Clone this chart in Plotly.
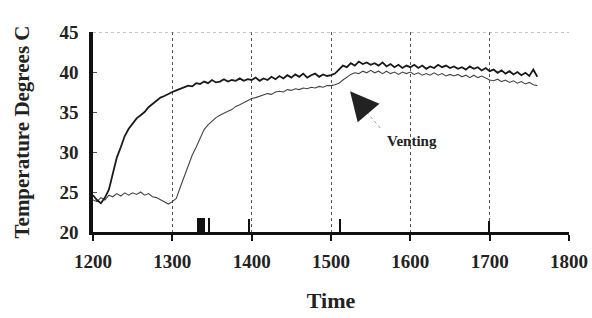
import plotly.graph_objects as go

time = list(range(1200, 1765, 5))

temp_upper = [24.6, 24.0, 23.6, 24.3, 25.3, 27.2, 29.3, 30.6, 32.0, 32.9,
              33.5, 34.2, 34.6, 35.0, 35.6, 36.0, 36.3, 36.8, 37.0, 37.3,
              37.5, 37.7, 37.9, 38.0, 38.3, 38.2, 38.6, 38.5, 38.8, 38.6,
              39.0, 38.7, 38.8, 39.1, 38.8, 39.0, 38.9, 39.2, 38.9, 39.1,
              39.0, 39.3, 38.9, 39.2, 39.0, 39.4, 39.1, 39.5, 39.2, 39.6,
              39.3, 39.7, 39.4, 39.8, 39.3, 39.6, 39.8, 39.4, 39.7, 39.5,
              39.6, 39.8, 40.3, 40.8, 40.6, 41.1, 40.8, 41.3, 41.0, 41.2,
              40.9, 41.1, 40.8, 41.2, 40.7, 41.0, 40.6, 40.9, 40.5, 40.8,
              40.6, 40.9, 40.5, 40.8, 40.4, 40.7, 40.5, 40.9, 40.6, 40.8,
              40.5, 40.7, 40.4, 40.6, 40.3, 40.7, 40.4, 40.6, 40.2, 40.5,
              40.1, 40.3, 39.9, 40.2, 39.8, 40.1, 39.7, 40.0, 39.6, 39.9,
              39.5, 40.3, 39.4]

temp_lower = [24.0, 23.8, 24.3, 24.0, 24.6, 24.4, 24.8, 24.5, 24.9, 24.6,
              24.9, 24.7, 25.0, 24.6, 24.8, 24.4, 24.3, 24.0, 23.8, 23.5,
              23.8, 24.2, 25.6, 27.0, 28.2, 29.6, 30.6, 31.8, 32.8, 33.4,
              33.9, 34.3, 34.6, 34.9, 35.1, 35.3, 35.7, 35.9, 36.2, 36.5,
              36.7, 36.8, 37.0, 37.1, 37.3, 37.2, 37.5, 37.6, 37.5, 37.8,
              37.7, 37.9, 37.8, 38.0, 37.9, 38.1, 38.0, 38.2, 38.1, 38.3,
              38.3, 38.4, 38.6, 39.0, 39.4, 39.7, 39.9, 39.8, 40.1, 39.9,
              40.2, 39.9, 40.1, 39.8, 40.1, 39.8, 40.0, 39.7, 40.0, 39.8,
              40.0, 39.7, 39.9, 39.6, 39.8, 39.6, 39.9, 39.6, 39.8, 39.5,
              39.7, 39.5, 39.7, 39.4, 39.6, 39.3, 39.6, 39.3, 39.5, 39.2,
              39.0, 38.9, 39.1, 38.8, 39.0, 38.7, 38.9, 38.6, 38.8, 38.5,
              38.7, 38.4, 38.3]

event_time = [1332, 1334, 1336, 1338, 1340, 1347, 1397, 1511, 1700]
event_level = [21.8, 21.8, 21.8, 21.8, 21.8, 21.7, 21.6, 21.6, 21.4]

x_ticks = [1200, 1300, 1400, 1500, 1600, 1700, 1800]
y_ticks = [20, 25, 30, 35, 40, 45]

FONT = "Liberation Serif"

fig = go.Figure()
fig.add_trace(go.Bar(x=event_time, y=[v - 20 for v in event_level], base=20,
                     width=1.8, marker=dict(color="#111111", line=dict(width=0)),
                     showlegend=False))
fig.add_trace(go.Scatter(x=time, y=temp_lower, mode="lines",
                         line=dict(color="#444444", width=1.1), showlegend=False))
fig.add_trace(go.Scatter(x=time, y=temp_upper, mode="lines",
                         line=dict(color="#1a1a1a", width=1.8), showlegend=False))

# top dotted border
fig.add_shape(type="line", x0=1200, x1=1800, y0=45, y1=45, xref="x", yref="y",
              line=dict(color="#888888", width=1, dash="dot"))
# dotted arrow line
fig.add_shape(type="line", x0=1562, y0=33, x1=1534, y1=36.3, xref="x", yref="y",
              line=dict(color="#999999", width=1, dash="dot"))
fig.add_annotation(x=1524, y=37.6, ax=1536, ay=36.2, axref="x", ayref="y",
                   xref="x", yref="y", text="", showarrow=True,
                   arrowhead=2, arrowsize=2.6, arrowwidth=2.2, arrowcolor="#222222")
fig.add_annotation(x=1602, y=31.4, xref="x", yref="y", text="<b>Venting</b>",
                   showarrow=False, font=dict(family=FONT, size=15, color="#222222"))

fig.update_xaxes(range=[1200, 1800], tickvals=x_ticks, ticktext=[str(t) for t in x_ticks],
                 showline=True, linecolor="#111111", linewidth=3,
                 ticks="outside", ticklen=6, tickwidth=2, tickcolor="#111111",
                 showgrid=True, gridcolor="#555555", gridwidth=1, griddash="dot",
                 zeroline=False, automargin=False, ticklabelstandoff=4,
                 tickfont=dict(family=FONT, size=19, color="#222222", weight="bold"),
                 title=dict(text="<b>Time</b>", font=dict(family=FONT, size=22, color="#222222"),
                            standoff=22))
fig.update_yaxes(range=[20, 45], tickvals=y_ticks, ticktext=[str(t) for t in y_ticks],
                 showline=True, linecolor="#111111", linewidth=3.5,
                 ticks="inside", ticklen=4, tickwidth=1, tickcolor="#555555",
                 showgrid=False, zeroline=False, automargin=False, ticklabelstandoff=7,
                 tickfont=dict(family=FONT, size=19, color="#222222", weight="bold"),
                 title=dict(text="<b>Temperature Degrees C</b>",
                            font=dict(family=FONT, size=21, color="#222222"), standoff=25))

fig.update_layout(width=592, height=318, margin=dict(l=93, r=23, t=32, b=86),
                  paper_bgcolor="white", plot_bgcolor="white", bargap=0)

fig.write_html("out.html", config={"displayModeBar": False},
               post_script="document.body.style.margin='0';document.body.style.overflow='hidden';")
